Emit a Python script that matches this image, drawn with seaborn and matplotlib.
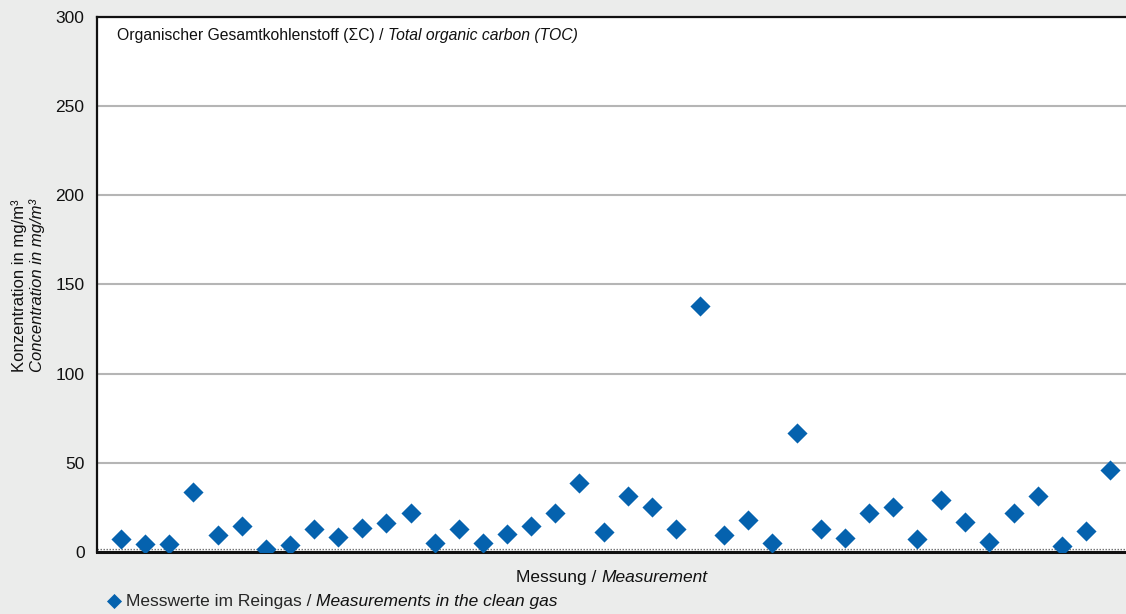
import numpy as np
import pandas as pd
import matplotlib
matplotlib.use("Agg")
import matplotlib.pyplot as plt
from matplotlib.text import Annotation
import seaborn as sns

measurement = list(range(1, 43))
toc_values = [7.1, 4.5, 4.7, 33.6, 9.5, 14.8, 1.7, 3.9, 13.1, 8.6,
              13.6, 16.1, 21.7, 4.9, 12.7, 4.9, 9.9, 14.8, 22.1, 38.7,
              11.4, 31.4, 25.4, 13.1, 138.0, 9.3, 17.9, 5.2, 66.6, 12.9,
              8.0, 22.1, 25.4, 7.1, 29.2, 16.6, 5.4, 21.7, 31.4, 3.4,
              11.8, 46.0]
y_ticks = [0, 50, 100, 150, 200, 250, 300]

df = pd.DataFrame({"Messung": measurement, "TOC": toc_values})

sns.set_theme(style="white")
FONT = ["Liberation Sans Narrow", "Liberation Sans", "DejaVu Sans"]
plt.rcParams["font.family"] = FONT

BG = "#ebeceb"
BLUE = "#0562ae"
TXT = "#111111"
W, H = 1126, 614
fig = plt.figure(figsize=(W / 100, H / 100), dpi=100, facecolor=BG)
ax = fig.add_axes([97 / W, (H - 552) / H, (W - 97) / W, (552 - 17) / H])
ax.set_facecolor("white")

ax.set_ylim(0, 300)
ax.set_xlim(0, 42.66)
ax.set_yticks(y_ticks)
ax.set_xticks([])
ax.grid(axis="y", color="#b5b5b5", linewidth=1.5, zorder=0)
ax.set_axisbelow(True)

# dotted band near zero
ax.axhline(0.6, color="#777777", linestyle=(0, (1.2, 1.2)), linewidth=0.9, zorder=1)
ax.axhline(1.8, color="#777777", linestyle=(0, (1.2, 1.2)), linewidth=0.9, zorder=1)

sns.scatterplot(data=df, x="Messung", y="TOC", marker="D", s=105, color=BLUE,
                edgecolor=BLUE, linewidth=0, ax=ax, zorder=3,
                label="Messwerte im Reingas / ", legend=False)

ax.spines["right"].set_visible(False)
for side in ["left", "bottom", "top"]:
    ax.spines[side].set_color(TXT)
    ax.spines[side].set_linewidth(1.6)
ax.spines["bottom"].set_linewidth(2.2)

ax.tick_params(axis="y", direction="out", length=5, width=1.3, color="#999999",
               labelsize=12.5, labelcolor=TXT, pad=4)
ax.set_xlabel("")
ax.set_ylabel("")

# in-axes title (mixed normal/italic)
t1 = ax.text(20 / (W - 97), 0.98, "Organischer Gesamtkohlenstoff (ΣC) / ",
             transform=ax.transAxes, fontsize=11.3, color=TXT,
             ha="left", va="top")
ax.annotate("Total organic carbon (TOC)", xy=(1, 0), xycoords=t1,
            fontsize=11.3, style="italic", color=TXT, ha="left", va="bottom")

# x label (mixed) - baseline aligned
xl_y = (H - 582) / H
xl = fig.text(516 / W, xl_y, "Messung / ", fontsize=12.5, color=TXT,
              ha="left", va="baseline")

# y label (two lines)
fig.text(19 / W, 0.535, "Konzentration in mg/m³", rotation=90, fontsize=12,
         ha="center", va="center", color=TXT)
fig.text(37 / W, 0.535, "Concentration in mg/m³", rotation=90, fontsize=12,
         style="italic", ha="center", va="center", color=TXT)

# legend
h, l = ax.get_legend_handles_labels()
leg = fig.legend(h, l, loc="center left", bbox_to_anchor=(104 / W, (H - 601) / H),
                 frameon=False, handletextpad=0.05, borderpad=0, borderaxespad=0,
                 handlelength=1.2, markerscale=0.75, prop={"size": 12.5})
leg.set_zorder(5)
ltxt = leg.get_texts()[0]
ann = Annotation("Measurements in the clean gas", xy=(1, 0), xycoords=ltxt,
                 fontsize=12.5, style="italic", color=TXT, ha="left", va="bottom")
ann.set_zorder(10)
fig.add_artist(ann)

fig.canvas.draw()
bb = xl.get_window_extent()
fig.text(bb.x1 / W, xl_y, "Measurement", fontsize=12.5, style="italic",
         color=TXT, ha="left", va="baseline")

fig.savefig("out.png", dpi=100, facecolor=BG)
